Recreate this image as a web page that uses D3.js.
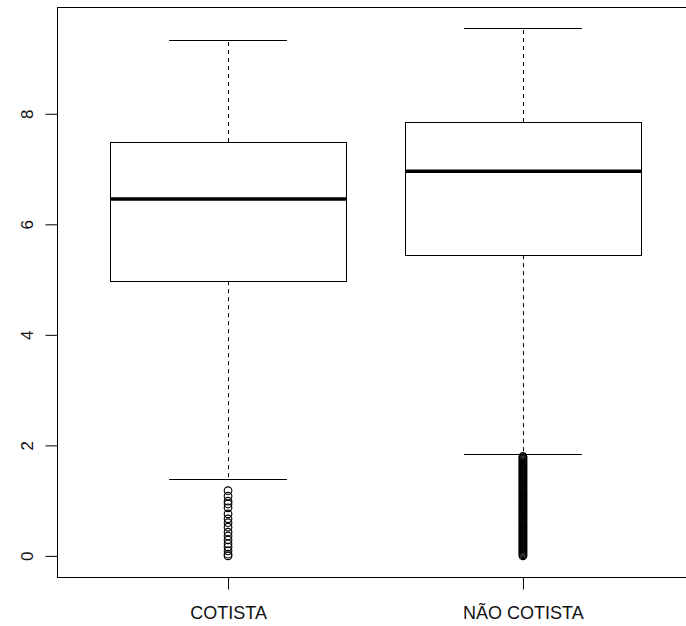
<!DOCTYPE html>
<html>
<head>
<meta charset="utf-8">
<script src="https://cdn.jsdelivr.net/npm/d3@7"></script>
<style>
  html, body { margin: 0; padding: 0; background: #fff; }
  svg { display: block; }
  text { font-family: "Liberation Sans", Arial, sans-serif; fill: #000; }
</style>
</head>
<body>
<svg id="chart" width="686" height="626"></svg>
<script>
// ---- data ----
const categories = ["COTISTA", "NÃO COTISTA"];
const whiskerLow  = [1.39, 1.84];
const q1          = [4.97, 5.44];
const median      = [6.46, 6.96];
const q3          = [7.49, 7.85];
const whiskerHigh = [9.34, 9.55];
const outliersCotista = [1.18, 1.08, 0.99, 0.94, 0.87, 0.76, 0.67, 0.60, 0.52, 0.43,
                         0.36, 0.29, 0.22, 0.16, 0.09, 0.03, 0.00];
const outliersNaoCotista = [
  0.00, 0.02, 0.04, 0.06, 0.08, 0.10, 0.12, 0.14, 0.16, 0.18,
  0.20, 0.22, 0.24, 0.26, 0.28, 0.30, 0.32, 0.34, 0.36, 0.38,
  0.40, 0.42, 0.44, 0.46, 0.48, 0.50, 0.52, 0.54, 0.56, 0.58,
  0.60, 0.62, 0.64, 0.66, 0.68, 0.70, 0.72, 0.74, 0.76, 0.78,
  0.80, 0.82, 0.84, 0.86, 0.88, 0.90, 0.92, 0.94, 0.96, 0.98,
  1.00, 1.02, 1.04, 1.06, 1.08, 1.10, 1.12, 1.14, 1.16, 1.18,
  1.20, 1.22, 1.24, 1.26, 1.28, 1.30, 1.32, 1.34, 1.36, 1.38,
  1.40, 1.42, 1.44, 1.46, 1.48, 1.50, 1.52, 1.54, 1.56, 1.58,
  1.60, 1.62, 1.64, 1.66, 1.68, 1.70, 1.72, 1.74, 1.76, 1.78, 1.80];
const outliers = [outliersCotista, outliersNaoCotista];
const yTicks = [0, 2, 4, 6, 8];

// ---- layout ----
const svg = d3.select("#chart");
const frame = { left: 57, right: 694, top: 7, bottom: 577 };

const x = d3.scaleLinear().domain([0.42, 2.58]).range([frame.left, frame.right]);
const y = d3.scaleLinear().domain([-0.382, 9.932]).range([frame.bottom, frame.top]);

const boxHalf = 0.4, capHalf = 0.2;

// frame
svg.append("rect")
  .attr("x", frame.left + 0.5).attr("y", frame.top + 0.5)
  .attr("width", frame.right - frame.left).attr("height", frame.bottom - frame.top)
  .attr("fill", "none").attr("stroke", "#000").attr("stroke-width", 1);

// y axis
const yAxis = d3.axisLeft(y).tickValues(yTicks).tickSize(12).tickPadding(0).tickFormat(d3.format("d"));
const gy = svg.append("g").attr("transform", `translate(${frame.left + 0.5},0)`).call(yAxis);
gy.select(".domain").remove();
gy.selectAll(".tick line").attr("stroke", "#000");
gy.selectAll(".tick text")
  .attr("x", null).attr("dy", null)
  .attr("transform", "translate(-25,0) rotate(-90)")
  .attr("text-anchor", "middle")
  .style("font-size", "17px")
  .style("fill", "#111")
  .style("font-family", "'Liberation Sans', Arial, sans-serif");

// x axis
const xAxis = d3.axisBottom(x).tickValues([1, 2]).tickSize(12).tickPadding(0)
  .tickFormat((d) => categories[d - 1]);
const gx = svg.append("g").attr("transform", `translate(0,${frame.bottom + 0.5})`).call(xAxis);
gx.select(".domain").remove();
gx.selectAll(".tick line").attr("stroke", "#000");
gx.selectAll(".tick text")
  .attr("y", 41).attr("dy", null)
  .style("font-size", "18px")
  .style("fill", "#111")
  .style("font-family", "'Liberation Sans', Arial, sans-serif");

// boxes
const groups = svg.append("g").selectAll("g").data(categories).join("g");

groups.each(function (c, i) {
  const g = d3.select(this);
  const cx = x(i + 1);
  const px = Math.round(cx) + 0.5;
  // dashed whiskers
  g.append("line").attr("x1", px).attr("x2", px)
    .attr("y1", y(q3[i])).attr("y2", y(whiskerHigh[i]))
    .attr("stroke", "#000").attr("stroke-dasharray", "4,4");
  g.append("line").attr("x1", px).attr("x2", px)
    .attr("y1", y(q1[i])).attr("y2", y(whiskerLow[i]))
    .attr("stroke", "#000").attr("stroke-dasharray", "4,4");
  // caps
  [whiskerHigh[i], whiskerLow[i]].forEach((v) => {
    g.append("line")
      .attr("x1", x(i + 1 - capHalf)).attr("x2", x(i + 1 + capHalf))
      .attr("y1", Math.round(y(v)) + 0.5).attr("y2", Math.round(y(v)) + 0.5)
      .attr("stroke", "#000");
  });
  // box
  const bx0 = Math.round(x(i + 1 - boxHalf)) + 0.5;
  const bx1 = Math.round(x(i + 1 + boxHalf)) + 0.5;
  const by0 = Math.round(y(q3[i])) + 0.5;
  const by1 = Math.round(y(q1[i])) + 0.5;
  g.append("rect").attr("x", bx0).attr("y", by0)
    .attr("width", bx1 - bx0).attr("height", by1 - by0)
    .attr("fill", "#fff").attr("stroke", "#000");
  // median
  g.append("line").attr("x1", bx0).attr("x2", bx1)
    .attr("y1", y(median[i])).attr("y2", y(median[i]))
    .attr("stroke", "#000").attr("stroke-width", 3.5);
  // outliers
  g.selectAll("circle").data(outliers[i]).join("circle")
    .attr("cx", cx).attr("cy", (d) => y(d)).attr("r", 3.8)
    .attr("fill", "none").attr("stroke", "#000").attr("stroke-width", 1.15);
});
</script>
</body>
</html>
